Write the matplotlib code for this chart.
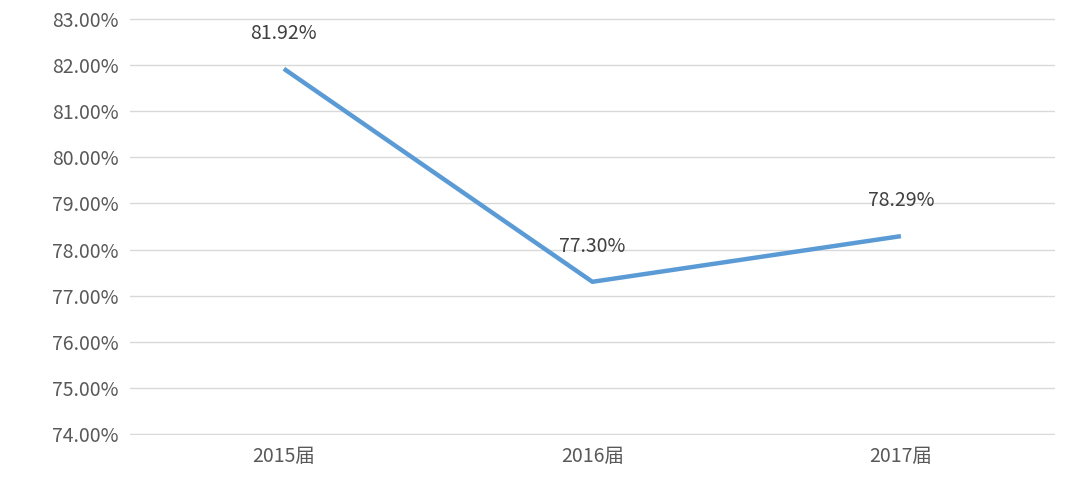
import matplotlib
matplotlib.use('Agg')
from matplotlib import pyplot as plt
from matplotlib.ticker import FuncFormatter, MultipleLocator

plt.rcParams['font.family'] = ['Noto Sans CJK SC', 'DejaVu Sans']

years = ['2015届', '2016届', '2017届']
rates = [81.92, 77.30, 78.29]

fig = plt.figure(figsize=(10.8, 4.87), dpi=100)
ax = fig.add_axes([0.12, 0.107, 0.857, 0.856])

x = range(len(years))
ax.plot(x, rates, color='#5b9bd5', linewidth=3.2, solid_capstyle='butt')
for xi, v in zip(x, rates):
    ax.annotate(f'{v:.2f}%', (xi, v), xytext=(0, 18), textcoords='offset points',
                ha='center', va='bottom', fontsize=14, color='#404040')

ax.set_xlim(-0.5, 2.5)
ax.set_ylim(73.98, 83.02)
ax.yaxis.set_major_locator(MultipleLocator(1))
ax.yaxis.set_major_formatter(FuncFormatter(lambda v, p: f'{v:.2f}%'))
ax.set_xticks(list(x))
ax.set_xticklabels(years)
ax.grid(axis='y', color='#d9d9d9', linewidth=1)
ax.set_axisbelow(True)
for s in ax.spines.values():
    s.set_visible(False)
ax.tick_params(length=0, labelsize=14, colors='#595959', pad=8)

fig.savefig('out.png', dpi=100)
